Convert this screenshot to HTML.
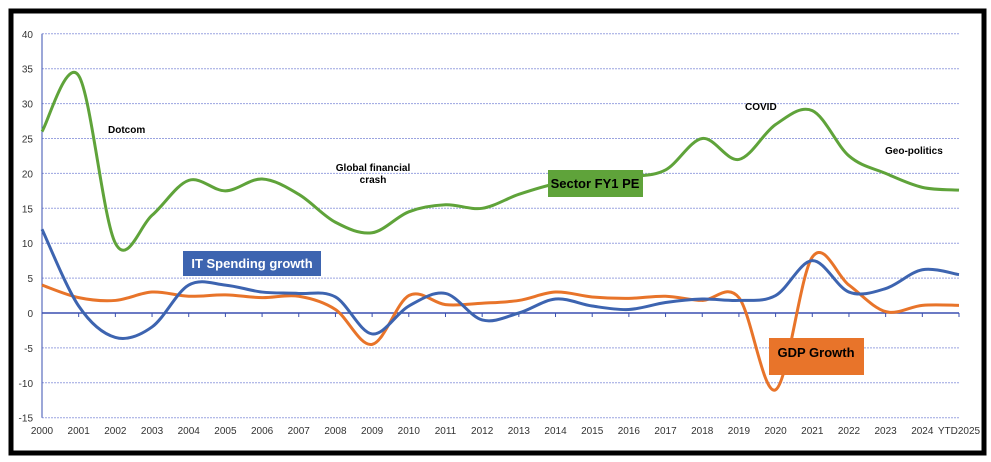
<!DOCTYPE html>
<html><head><meta charset="utf-8"><style>
body{margin:0;background:#fff;width:991px;height:462px;overflow:hidden;font-family:"Liberation Sans",sans-serif}
svg{position:absolute;left:0;top:0}
</style></head><body>
<svg width="991" height="462" id="c">
<rect x="11" y="11" width="973" height="442" fill="#fff" stroke="#000" stroke-width="5"/>
<g id="grid"></g><g id="lines"></g><g id="ann"></g>
</svg>
<script>
const years=["2000","2001","2002","2003","2004","2005","2006","2007","2008","2009","2010","2011","2012","2013","2014","2015","2016","2017","2018","2019","2020","2021","2022","2023","2024","YTD2025"];
const yTicks=[40,35,30,25,20,15,10,5,0,-5,-10,-15];
const pe=[26,34,10,14,19,17.5,19.2,17,13,11.5,14.5,15.5,15,17,18.5,19,19.5,20.5,25,22,27,29,22.5,20,18,17.6];
const itSpend=[12,1,-3.5,-2,4,4,3,2.8,2.3,-3,1,2.8,-1,0,2,1,0.5,1.5,2,1.8,2.5,7.5,3,3.5,6.2,5.5];
const gdp=[4,2.2,1.8,3,2.4,2.6,2.2,2.4,0.5,-4.5,2.5,1.2,1.4,1.8,3,2.3,2.1,2.4,1.8,2.2,-11,8,4,0.2,1.1,1.1];
const NS="http://www.w3.org/2000/svg";
const X=i=>42+i*(959-42)/(years.length-1);
const Y=v=>313-v*(34.9/5);
function el(t,a,p){const e=document.createElementNS(NS,t);for(const k in a)e.setAttribute(k,a[k]);p.appendChild(e);return e;}
const g=document.getElementById('grid');
yTicks.forEach(v=>{
 const l=el('line',{x1:42,x2:959,y1:Y(v),y2:Y(v),stroke:v===0?'#3a4fb0':'#9aa3e0','stroke-width':v===0?1.5:1,'stroke-dasharray':v===0?'':'2,1'},g);
 
 
 const t=el('text',{x:33,y:Y(v)+4,'text-anchor':'end','font-size':10,fill:'#333'},g);t.textContent=v;
 
 
});
el('line',{x1:42,x2:42,y1:Y(40),y2:Y(-15),stroke:'#3a4fb0'},g);
years.forEach((yr,i)=>{
 el('line',{x1:X(i),x2:X(i),y1:313,y2:317,stroke:'#3a4fb0'},g);
 const t=el('text',{x:X(i),y:434,'text-anchor':i===years.length-1?'middle':'middle','font-size':10,fill:'#333'},g);t.textContent=yr;
 
 
});
function path(d){const p=d.map((v,i)=>[X(i),Y(v)]);let s=`M${p[0][0]},${p[0][1]}`;
 for(let i=0;i<p.length-1;i++){const p0=p[i-1]||p[i],p1=p[i],p2=p[i+1],p3=p[i+2]||p2;
 s+=` C${p1[0]+(p2[0]-p0[0])/6},${p1[1]+(p2[1]-p0[1])/6} ${p2[0]-(p3[0]-p1[0])/6},${p2[1]-(p3[1]-p1[1])/6} ${p2[0]},${p2[1]}`;}return s;}
const L=document.getElementById('lines');
[[gdp,'#e8742a','gdp-line'],[itSpend,'#3d64b0','it-spending-line'],[pe,'#5fa33a','pe-line']].forEach(([d,c,n])=>{
 const p=el('path',{d:path(d),fill:'none',stroke:c,'stroke-width':3},L);
 
 
});
const A=document.getElementById('ann');
function txt(s,x,y,o){const t=el('text',Object.assign({x,y,'font-size':10,'font-weight':'bold',fill:'#000'},o||{}),A);t.textContent=s;return t;}
let t;
t=txt('Dotcom',108,133);
t=txt('Global financial',373,171,{'text-anchor':'middle'});
t=txt('crash',373,183,{'text-anchor':'middle'});
t=txt('COVID',745,110);
t=txt('Geo-politics',885,154);
let r=el('rect',{x:548,y:170,width:95,height:27,fill:'#5fa33a'},A);
t=txt('Sector FY1 PE',595,188,{'text-anchor':'middle','font-size':13,fill:'#000'});
r=el('rect',{x:183,y:251,width:138,height:25,fill:'#3d64b0'},A);
t=txt('IT Spending growth',252,268,{'text-anchor':'middle','font-size':13,fill:'#fff'});
r=el('rect',{x:769,y:338,width:95,height:37,fill:'#e8742a'},A);
t=txt('GDP Growth',816,357,{'text-anchor':'middle','font-size':13,fill:'#000'});
</script>
</body></html>
